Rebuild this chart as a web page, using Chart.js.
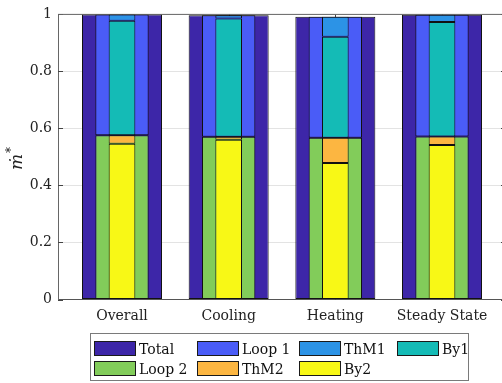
<!DOCTYPE html>
<html>
<head>
<meta charset="utf-8">
<script src="https://cdn.jsdelivr.net/npm/chart.js@4.4.0/dist/chart.umd.min.js"></script>
<style>
  html, body { margin: 0; padding: 0; background: #fff; overflow: hidden; width: 502px; height: 383px; }
  #wrap { position: relative; width: 512px; height: 383px; }
  canvas { display: block; }
  #legendBox { position: absolute; left: 90px; top: 333px; width: 379px; height: 48px; box-sizing: border-box; border: 1px solid #7a7a7a; background: #fff; }
  .item { position: absolute; display: flex; align-items: center; height: 15px; font: 14px 'DejaVu Serif', serif; color: #111; white-space: nowrap; }
  .sw { width: 42px; height: 15px; box-sizing: border-box; border: 1px solid #1a1a1a; margin-right: 3px; }
</style>
</head>
<body>
<div id="wrap">
  <canvas id="c" width="512" height="383"></canvas>
  <div id="legendBox"></div>
</div>
<script>
// Mass-flow fractions per operating mode
const categories = ['Overall', 'Cooling', 'Heating', 'Steady State'];
const total = [1.000, 0.997, 0.992, 0.999];
const loop2 = [0.576, 0.571, 0.567, 0.572];
const loop1 = [0.424, 0.426, 0.425, 0.427];
const by2   = [0.546, 0.560, 0.479, 0.542];
const thm2  = [0.030, 0.011, 0.088, 0.030];
const by1   = [0.402, 0.415, 0.355, 0.401];
const thm1  = [0.022, 0.011, 0.070, 0.026];
const yTicks = [0, 0.2, 0.4, 0.6, 0.8, 1];

const colors = {
  total: '#3d26a8', loop1: '#4a5cf7', thm1: '#2c93e6', by1: '#14bbb6',
  loop2: '#82cc5a', thm2: '#fcb641', by2: '#f8f816'
};

const pts = arr => arr.map((v, i) => ({ x: i + 1, y: v }));

function series(label, values, color, stack, order, width) {
  return {
    label, data: pts(values), backgroundColor: color,
    borderColor: '#111', borderWidth: 1, borderSkipped: false,
    stack, order, grouped: false,
    categoryPercentage: 1, barPercentage: width
  };
}

const datasets = [
  series('Total',  total, colors.total, 'total', 3, 0.75),
  series('Loop 2', loop2, colors.loop2, 'loop',  2, 0.5),
  series('Loop 1', loop1, colors.loop1, 'loop',  2, 0.5),
  series('By2',    by2,   colors.by2,   'inner', 1, 0.25),
  series('ThM2',   thm2,  colors.thm2,  'inner', 1, 0.25),
  series('By1',    by1,   colors.by1,   'inner', 1, 0.25),
  series('ThM1',   thm1,  colors.thm1,  'inner', 1, 0.25)
];

const serif = "'DejaVu Serif', serif";

// Box outline and inward tick marks on all four sides
const frame = {
  id: 'frame',
  beforeDatasetsDraw(chart) {
    const { ctx, chartArea: a, scales: { x, y } } = chart;
    const L = 5;
    ctx.save();
    ctx.strokeStyle = '#444';
    ctx.lineWidth = 1;
    ctx.beginPath();
    y.ticks.forEach(t => {
      const py = Math.round(y.getPixelForValue(t.value)) + 0.5;
      ctx.moveTo(a.left, py); ctx.lineTo(a.left + L, py);
      ctx.moveTo(a.right, py); ctx.lineTo(a.right - L, py);
    });
    x.ticks.forEach(t => {
      const px = Math.round(x.getPixelForValue(t.value)) + 0.5;
      ctx.moveTo(px, a.bottom); ctx.lineTo(px, a.bottom - L);
      ctx.moveTo(px, a.top); ctx.lineTo(px, a.top + L);
    });
    ctx.stroke();
    ctx.strokeStyle = '#666';
    ctx.beginPath();
    ctx.moveTo(a.left, a.top); ctx.lineTo(a.right, a.top); ctx.lineTo(a.right, a.bottom);
    ctx.stroke();
    ctx.restore();
  },
  afterDraw(chart) {
    // y-axis title: m-dot with superscript asterisk
    const { ctx, chartArea: a } = chart;
    ctx.save();
    ctx.translate(22, (a.top + a.bottom) / 2 + 2);
    ctx.rotate(-Math.PI / 2);
    ctx.fillStyle = '#222';
    ctx.textBaseline = 'alphabetic';
    ctx.textAlign = 'left';
    ctx.font = "italic 17px 'DejaVu Serif', serif";
    const m = '\u1E41';
    const w = ctx.measureText(m).width;
    ctx.fillText(m, -w / 2 - 3, 0);
    ctx.font = "12px 'DejaVu Serif', serif";
    ctx.fillText('*', w / 2 - 2, -7);
    ctx.restore();
  }
};

new Chart(document.getElementById('c'), {
  type: 'bar',
  data: { datasets },
  plugins: [frame],
  options: {
    responsive: false,
    animation: false,
    layout: { padding: { top: 13, right: 6, left: 0, bottom: 0 } },
    plugins: { legend: { display: false }, tooltip: { enabled: false } },
    scales: {
      x: {
        type: 'linear', min: 0.4, max: 4.6, offset: false,
        grid: { display: false, offset: false },
        border: { color: '#555', width: 1 },
        afterBuildTicks: s => { s.ticks = categories.map((_, i) => ({ value: i + 1 })); },
        afterFit: s => { s.height = 83.5; },
        ticks: {
          autoSkip: false, maxRotation: 0, padding: 0,
          color: '#222', font: { family: serif, size: 14 },
          callback: v => categories[v - 1]
        }
      },
      y: {
        stacked: true, min: 0, max: 1,
        grid: { color: '#e3e3e3', drawTicks: false },
        border: { color: '#666', width: 1 },
        afterBuildTicks: s => { s.ticks = yTicks.map(v => ({ value: v })); },
        afterFit: s => { s.width = 58; },
        ticks: {
          padding: 6, color: '#222', font: { family: serif, size: 14 },
          callback: v => (v === 0 || v === 1) ? String(v) : v.toFixed(1)
        }
      }
    }
  }
});

// Legend laid out in four columns, two rows
const legendOrder = [
  ['Total', colors.total], ['Loop 1', colors.loop1], ['ThM1', colors.thm1], ['By1', colors.by1],
  ['Loop 2', colors.loop2], ['ThM2', colors.thm2], ['By2', colors.by2]
];
const colX = [94, 197, 299, 397];
const rowY = [341, 361];
const wrap = document.getElementById('wrap');
legendOrder.forEach(([label, color], i) => {
  const el = document.createElement('div');
  el.className = 'item';
  el.style.left = colX[i % 4] + 'px';
  el.style.top = rowY[Math.floor(i / 4)] + 'px';
  const sw = document.createElement('span');
  sw.className = 'sw';
  sw.style.background = color;
  const tx = document.createElement('span');
  tx.textContent = label;
  el.appendChild(sw);
  el.appendChild(tx);
  wrap.appendChild(el);
});
</script>
</body>
</html>
